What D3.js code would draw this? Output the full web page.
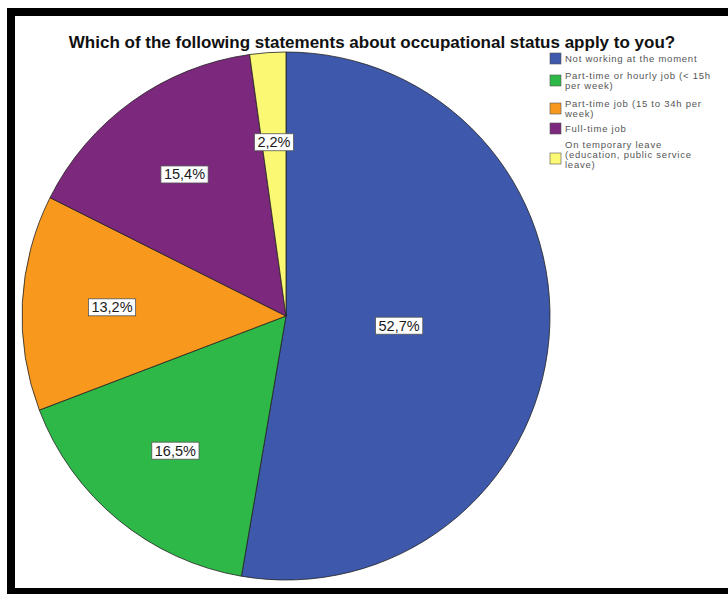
<!DOCTYPE html>
<html>
<head>
<meta charset="utf-8">
<script src="https://cdn.jsdelivr.net/npm/d3@7"></script>
<style>
  html, body { margin: 0; padding: 0; background: #fff; }
  svg { display: block; }
</style>
</head>
<body>
<svg id="chart" width="728" height="594"></svg>
<script>
// Occupational status, share of respondents (%)
const categories = [
  "Not working at the moment",
  "Part-time or hourly job (< 15h per week)",
  "Part-time job (15 to 34h per week)",
  "Full-time job",
  "On temporary leave (education, public service leave)"
];
const legendLines = [
  ["Not working at the moment"],
  ["Part-time or hourly job (< 15h", "per week)"],
  ["Part-time job (15 to 34h per", "week)"],
  ["Full-time job"],
  ["On temporary leave", "(education, public service", "leave)"]
];
const values = [52.7, 16.5, 13.2, 15.4, 2.2];
const colors = ["#3e58ac", "#2eb848", "#f8981d", "#7c287d", "#fbf873"];
const title = "Which of the following statements about occupational status apply to you?";

const svg = d3.select("#chart");

// black frame (open on the right, as the panel runs past the edge)
svg.append("rect")
  .attr("x", 11).attr("y", 12)
  .attr("width", 800).attr("height", 580)
  .attr("fill", "#fff")
  .attr("stroke", "#000")
  .attr("stroke-width", 8);

svg.append("text")
  .attr("x", 372).attr("y", 48)
  .attr("text-anchor", "middle")
  .attr("font-family", "Liberation Sans, Arial, sans-serif")
  .attr("font-weight", "bold")
  .attr("font-size", 17)
  .attr("fill", "#111")
  .text(title);

const cx = 286, cy = 316, R = 264;
const g = svg.append("g").attr("transform", `translate(${cx},${cy})`);

const pie = d3.pie().sort(null).value(d => d)
  .startAngle(0).endAngle(2 * Math.PI);
const arcs = pie(values);
const arc = d3.arc().innerRadius(0).outerRadius(R);

g.selectAll("path.slice")
  .data(arcs)
  .join("path")
  .attr("class", "slice")
  .attr("d", arc)
  .attr("fill", (d, i) => colors[i])
  .attr("stroke", "#222")
  .attr("stroke-width", 0.8);

// labels: the dominant slice gets its label closer to the centre
const fmt = v => d3.format(".1f")(v).replace(".", ",") + "%";
const labelPos = d => {
  const share = (d.endAngle - d.startAngle) / (2 * Math.PI);
  const rr = share > 0.5 ? 0.43 * R : 0.66 * R;
  const a = (d.startAngle + d.endAngle) / 2;
  return [rr * Math.sin(a), -rr * Math.cos(a)];
};

const lab = g.selectAll("g.lab")
  .data(arcs)
  .join("g")
  .attr("class", "lab")
  .attr("transform", d => `translate(${labelPos(d)})`);

lab.append("text")
  .attr("text-anchor", "middle")
  .attr("dy", "0.35em")
  .attr("font-family", "Liberation Sans, Arial, sans-serif")
  .attr("font-size", 14.5)
  .attr("fill", "#1a1a1a")
  .text(d => fmt(d.data));

lab.each(function () {
  const t = d3.select(this).select("text");
  const b = t.node().getBBox();
  d3.select(this).insert("rect", "text")
    .attr("x", b.x - 3).attr("y", b.y - 0.5)
    .attr("width", b.width + 6).attr("height", b.height + 1)
    .attr("fill", "#fff")
    .attr("stroke", "#555")
    .attr("stroke-width", 0.8);
});

// legend
const legend = svg.append("g").attr("transform", "translate(550,53)");
const rowTops = [0, 22, 50, 70, 100];
const item = legend.selectAll("g.item")
  .data(categories)
  .join("g")
  .attr("class", "item")
  .attr("transform", (d, i) => `translate(0,${rowTops[i]})`);

item.append("rect")
  .attr("width", 11).attr("height", 11)
  .attr("fill", (d, i) => colors[i])
  .attr("stroke", "#555")
  .attr("stroke-width", 0.6);

item.each(function (d, i) {
  const lines = legendLines[i];
  const sel = d3.select(this);
  const y0 = lines.length === 1 ? 9 : (lines.length === 2 ? 4 : -5);
  lines.forEach((ln, j) => {
    sel.append("text")
      .attr("x", 15)
      .attr("y", y0 + j * 10)
      .attr("font-family", "Liberation Sans, Arial, sans-serif")
      .attr("font-size", 9.5)
      .attr("letter-spacing", 0.75)
      .attr("fill", "#555")
      .text(ln);
  });
});
</script>
</body>
</html>
